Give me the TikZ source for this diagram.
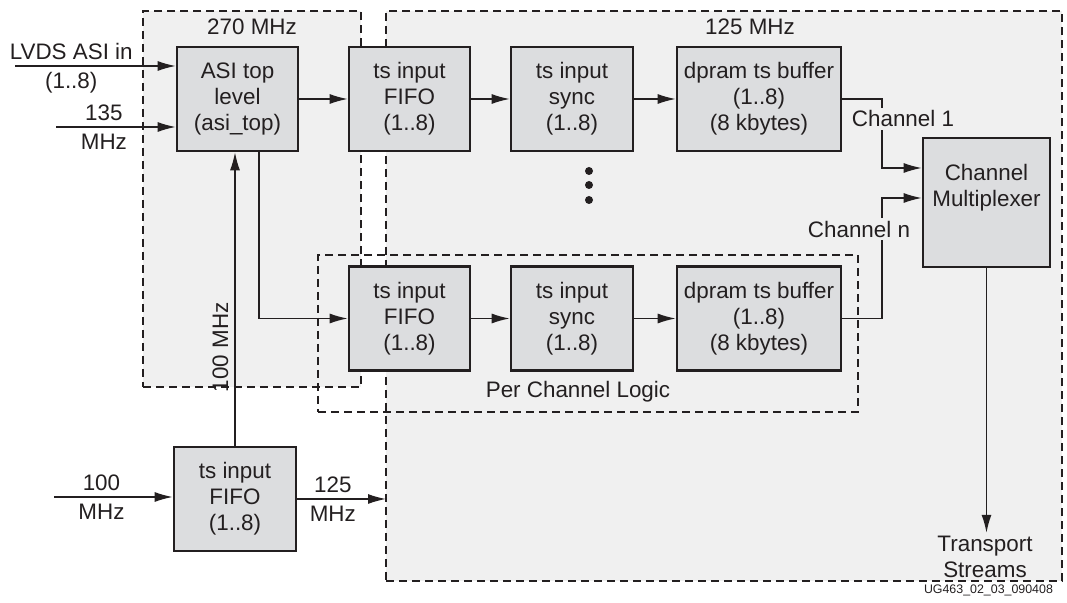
\documentclass[tikz,border=0pt]{standalone}
\usepackage{fontspec}
\setmainfont{Liberation Sans}
\usetikzlibrary{positioning, arrows.meta, calc}
\definecolor{blkfill}{RGB}{220,221,223}
\definecolor{regfill}{RGB}{240,240,240}
\definecolor{ink}{RGB}{35,31,32}
\tikzset{
  blk/.style={draw=ink, line width=1.3pt, fill=blkfill, align=center, minimum height=52pt, inner sep=0pt, text=ink},
  region/.style={draw=ink, line width=0.9pt, dash pattern=on 4pt off 2.5pt, inner sep=0pt, outer sep=0pt},
  sig/.style={draw=ink, line width=0.7pt, -{Latex[length=9pt,width=5pt]}},
  lbl/.style={text=ink, align=center, inner sep=1.5pt},
  elbl/.style={text=ink, inner sep=3pt}
}

\begin{document}
\begin{tikzpicture}[x=0.5pt, y=-0.5pt, font=\fontsize{11.2}{13}\selectfont]
  \useasboundingbox (0,0) rectangle (1067,603);
  % clock domains
  \node[region, fill=regfill, minimum width=109pt, minimum height=188pt] (r270) at (252,199) {};
  \node[region, fill=regfill, minimum width=338pt, minimum height=285pt] (r125) at (724,296) {};
  \node[region, minimum width=270pt, minimum height=78.5pt] (pcl) at (588,333.5) {};
  \node[lbl] at (252,27) {270 MHz};
  \node[lbl] at (750,27) {125 MHz};
  \node[lbl] at (578,392) {Per Channel Logic};

  % blocks
  \node[blk, minimum width=60.5pt] (asi) at (237.5,99) {ASI top\\level\\(asi\_top)};
  \node[blk, minimum width=60.5pt] (fifoA) at (409.5,99) {ts input\\FIFO\\(1..8)};
  \node[blk, minimum width=61pt] (syncA) at (572,99) {ts input\\sync\\(1..8)};
  \node[blk, minimum width=82pt] (dpramA) at (759,99) {dpram ts buffer\\(1..8)\\(8 kbytes)};
  \node[blk, minimum width=60.5pt] (fifoB) at (409.5,318.5) {ts input\\FIFO\\(1..8)};
  \node[blk, minimum width=61pt] (syncB) at (572,318.5) {ts input\\sync\\(1..8)};
  \node[blk, minimum width=82pt] (dpramB) at (759,318.5) {dpram ts buffer\\(1..8)\\(8 kbytes)};
  \node[blk, minimum width=61pt] (fifoC) at (235,499) {ts input\\FIFO\\(1..8)};
  \node[blk, minimum width=63.5pt, minimum height=64.5pt] (mux) at (986.5,202.5) {};
  \node[lbl, below=12pt of mux.north] {Channel\\Multiplexer};
  \node[lbl] (tstream) at (985,557) {Transport\\Streams};

  \foreach \y in {171,185,200}
    \fill[ink] (589,\y) circle (2pt);

  % inputs
  \coordinate (lvds) at (15,66);
  \coordinate (clk135) at (56,127);
  \coordinate (clk100) at (54,497);
  \draw[sig] (lvds) -- (asi.west |- lvds)
    node[elbl, pos=0.35, above] {LVDS ASI in} node[elbl, pos=0.35, below] {(1..8)};
  \draw[sig] (clk135) -- (asi.west |- clk135)
    node[elbl, pos=0.4, above] {135} node[elbl, pos=0.4, below] {MHz};
  \draw[sig] (clk100) -- (fifoC.west |- clk100)
    node[elbl, pos=0.4, above] {100} node[elbl, pos=0.4, below] {MHz};
  \draw[sig] (fifoC.east) -- (fifoC.east -| r125.west)
    node[elbl, pos=0.4, above] {125} node[elbl, pos=0.4, below] {MHz};
  \draw[sig] (fifoC.north) -- (fifoC.north |- asi.south)
    node[elbl, pos=0.335, sloped, above] {100 MHz};

  % channel paths
  \draw[sig] (asi) -- (fifoA);
  \draw[sig] (fifoA) -- (syncA);
  \draw[sig] (syncA) -- (dpramA);
  \draw[sig] ($(asi.south)+(21.5,0)$) |- (fifoB.west);
  \draw[sig] (fifoB) -- (syncB);
  \draw[sig] (syncB) -- (dpramB);

  % multiplexer
  \coordinate (ch1) at (882,168);
  \coordinate (chn) at (882,198);
  \draw[sig] (dpramA.east) -| (ch1) -- (ch1 -| mux.west);
  \draw[sig] (dpramB.east) -| (chn) -- (chn -| mux.west);
  \node[lbl, fill=regfill] at (903,119) {Channel 1};
  \node[lbl, fill=regfill] at (859,229) {Channel n};
  \draw[sig] (mux.south) -- (mux.south |- tstream.north);

  \node[text=ink, anchor=east, font=\fontsize{6.2}{7}\selectfont] at (1060,590) {UG463\_02\_03\_090408};
\end{tikzpicture}
\end{document}
